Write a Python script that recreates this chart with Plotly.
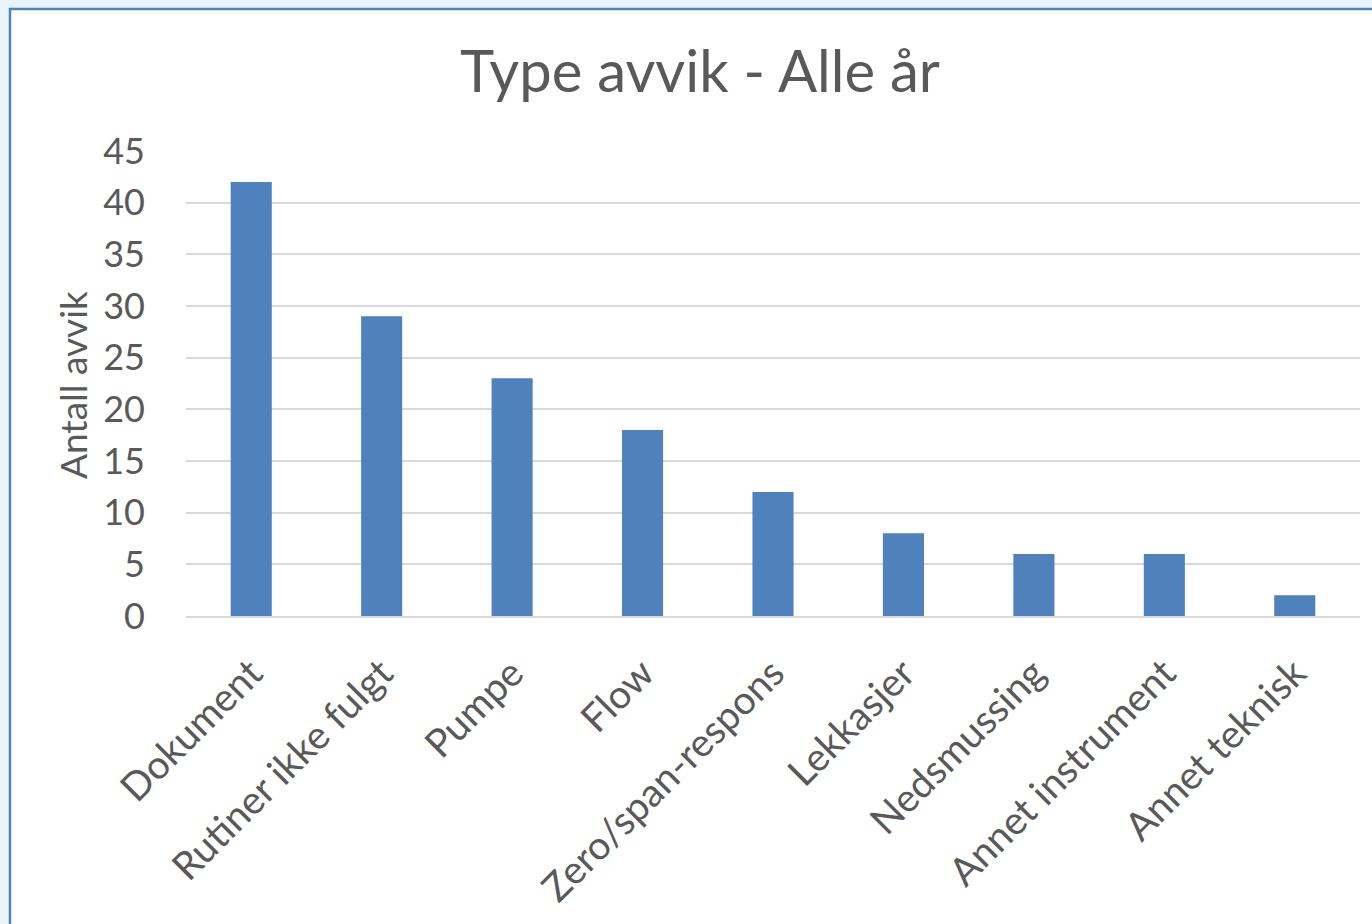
import plotly.graph_objects as go

categories = ["Dokument", "Rutiner ikke fulgt", "Pumpe", "Flow", "Zero/span-respons",
              "Lekkasjer", "Nedsmussing", "Annet instrument", "Annet teknisk"]
values = [42, 29, 23, 18, 12, 8, 6, 6, 2]
y_ticks = [0, 5, 10, 15, 20, 25, 30, 35, 40, 45]

W, H = 1372, 924
L, R, T, B = 186, 12, 151, 308
pw, ph = W - L - R, H - T - B

def px_x(p):
    return (p - L) / pw

def px_y(p):
    return (H - B - p) / ph

text_col = "#595959"
font = "Lato, Carlito, Calibri, sans-serif"

fig = go.Figure(go.Bar(
    x=categories, y=values,
    marker=dict(color="#4F81BD", line=dict(color="#4F81BD", width=0)),
))

fig.update_layout(
    width=W, height=H,
    margin=dict(l=L, r=R, t=T, b=B, autoexpand=False),
    paper_bgcolor="#EAF4FB",
    plot_bgcolor="white",
    bargap=0.685,
    showlegend=False,
    font=dict(family=font, color=text_col),
    title=dict(text="Type avvik - Alle år", x=px_x(700), xref="paper", xanchor="center",
               y=1 - 72 / H, yanchor="middle", font=dict(size=58, color=text_col, family=font)),
    shapes=[dict(type="rect", xref="paper", yref="paper", layer="below",
                 x0=px_x(10), x1=px_x(W + 20), y0=px_y(H + 20), y1=px_y(9),
                 fillcolor="white", line=dict(color="#4F81BD", width=2.5))],
    annotations=[dict(text="Antall avvik", xref="paper", yref="paper",
                      x=px_x(72), y=px_y(385), xanchor="center", yanchor="middle",
                      textangle=-90, showarrow=False,
                      font=dict(size=37, color=text_col, family=font))],
)

fig.update_yaxes(range=[0, 45], tickvals=y_ticks, showgrid=True, gridcolor="#D9D9D9",
                 gridwidth=1.5, zeroline=False, showline=False,
                 tickfont=dict(size=36, color=text_col), ticklabelstandoff=40)
fig.update_xaxes(showline=True, linecolor="#D9D9D9", linewidth=1.5, tickangle=-45,
                 tickfont=dict(size=39, color=text_col), ticklabelstandoff=17, ticks="")

fig.write_html("out.html", config={"displayModeBar": False},
               post_script="document.body.style.margin='0';document.body.style.background='#EAF4FB';")
